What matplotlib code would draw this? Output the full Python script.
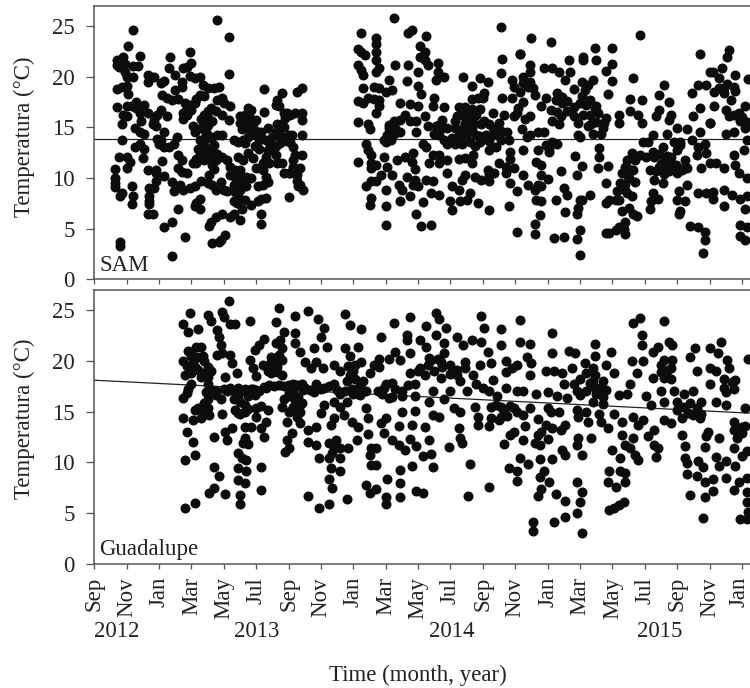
import matplotlib
matplotlib.use("Agg")
import matplotlib.pyplot as plt
from matplotlib.transforms import ScaledTranslation

plt.rcParams["font.family"] = ["Liberation Serif", "DejaVu Serif"]

# x = months since Sep 2012, y = temperature (deg C)
month_labels = ["Sep", "Nov", "Jan", "Mar", "May", "Jul", "Sep", "Nov", "Jan", "Mar", "May",
                "Jul", "Sep", "Nov", "Jan", "Mar", "May", "Jul", "Sep", "Nov", "Jan"]
month_ticks = [0, 2, 4, 6, 8, 10, 12, 14, 16, 18, 20, 22, 24, 26, 28, 30, 32, 34, 36, 38, 40]
year_labels = ["2012", "2013", "2014", "2015"]
year_centres = [1.4, 10.05, 22.1, 34.9]

sam_trend = [(0, 13.9), (40.5, 13.9)]
gua_trend = [(0, 18.1), (40.5, 14.85)]

sam_a = [(1.3,10.9),(1.3,10.0),(1.3,9.5),(1.3,9.1),(1.6,8.2),(1.7,8.5),(1.6,3.7),(1.6,3.3),(1.4,17.0),(1.4,18.8),
         (1.7,19.0),(2.0,19.1),(2.1,18.3),(1.4,21.7),(1.4,21.2),(1.5,21.0),(1.7,21.5),(1.8,22.0),(1.9,21.3),(2.1,23.0),
         (2.4,24.6),(2.8,22.1),(2.4,21.1),(2.7,21.1),(1.9,20.5),(2.0,20.0),(2.4,20.0),(1.8,16.2),(2.0,16.1),(1.7,15.3),
         (1.7,13.8),(1.5,12.1),(2.0,12.1),(2.2,11.6),(2.0,11.0),(2.3,9.2),(2.4,8.2),(2.3,7.4),(2.0,17.1),(2.3,17.1),
         (2.6,17.5),(2.6,16.9),(2.8,16.4),(3.1,17.2),(3.3,16.4),(2.9,15.6),(2.5,14.9),(2.8,14.6),(3.1,14.4),(2.5,13.1),
         (2.8,13.4),(3.1,12.9),(3.0,12.0),(3.3,20.2),(3.5,20.0),(3.7,20.0),(3.3,19.5),(4.1,19.4),(4.3,19.6),(3.7,15.7),
         (3.6,15.3),(3.8,15.1),(3.3,10.8),(3.8,10.8),(3.8,10.5),(3.8,9.7),(3.4,9.0),(3.7,9.0),(3.4,8.2),(3.4,7.7),
         (3.4,7.4),(3.3,6.5),(3.6,6.5),(4.3,5.2),(3.9,16.2),(4.1,16.7),(4.5,16.1)]
sam_b = [(4.7,22.0),(5.9,22.5),(4.6,20.9),(5.0,20.2),(5.5,20.9),(5.7,21.0),(6.0,21.4),(5.4,19.5),(5.4,19.0),(5.0,18.7),
         (4.2,18.2),(4.5,17.9),(4.8,17.7),(5.2,17.8),(5.6,17.4),(5.9,17.2),(6.2,17.4),(5.7,16.9),(6.0,16.7),(5.5,16.4),
         (5.7,16.2),(5.5,15.8),(4.3,14.6),(4.1,13.8),(3.9,13.9),(4.0,13.4),(4.3,13.1),(4.6,13.1),(4.9,13.4),(5.1,14.1),
         (5.2,12.3),(5.4,11.8),(4.2,11.7),(4.3,10.2),(5.2,11.0),(5.4,10.6),(5.7,10.5),(4.8,9.6),(4.9,8.7),(5.3,9.3),
         (5.5,8.8),(5.9,9.0),(6.2,9.2),(5.2,6.9),(4.8,5.7),(5.6,4.2),(4.8,2.3),(6.1,15.1),(6.2,14.6),(6.1,11.5),(6.3,11.5)]
sam_c = [(5.9,20.1),(6.2,19.9),(6.5,20.0),(6.7,19.2),(7.0,18.9),(7.4,18.9),(7.7,19.0),(6.5,18.2),(6.8,18.1),(6.3,17.8),
         (7.6,17.7),(7.9,17.9),(8.0,17.4),(8.4,17.1),(7.0,16.6),(7.2,16.9),(6.8,16.2),(7.5,16.6),(7.9,16.2),(6.7,15.6),
         (7.0,15.9),(8.3,15.7),(6.6,14.9),(6.9,14.9),(7.0,14.3),(7.6,14.3),(7.9,14.3),(6.5,13.8),(6.8,13.4),(7.0,12.9),
         (6.5,12.3),(6.7,12.5),(6.3,11.9),(7.3,12.8),(7.6,12.4),(7.5,11.8),(7.9,12.1),(8.2,11.8),(7.3,11.3),(7.1,10.3),
         (6.6,9.7),(7.0,9.5),(7.3,9.3),(7.8,9.6),(7.5,8.8),(8.0,8.8),(8.2,8.7),(6.5,7.9),(6.3,7.5),(6.2,7.2),
         (6.5,6.9),(7.5,6.2),(7.2,5.7),(7.1,5.3),(7.9,6.5),(7.3,3.6),(7.7,3.7),(7.8,3.9),(8.1,4.4),(7.6,25.6),
         (8.3,23.9),(8.3,20.3)]
sam_d = [(8.6,13.8),(8.9,13.6),(9.2,13.8),(9.5,14.1),(9.8,14.4),(9.0,16.1),(9.3,16.2),(9.5,16.9),(9.7,16.7),(9.2,15.6),
         (9.6,15.9),(9.8,15.3),(9.1,14.8),(9.5,14.9),(9.9,14.6),(8.9,12.1),(9.2,11.8),(9.5,12.5),(9.8,12.0),(8.4,11.1),
         (8.7,10.8),(9.0,10.8),(8.4,10.3),(8.7,10.1),(9.0,10.3),(9.4,10.1),(9.7,10.0),(8.6,9.3),(8.9,9.5),(9.0,8.8),
         (9.4,9.2),(8.6,7.7),(8.9,8.2),(9.3,7.8),(8.8,7.5),(9.1,6.9),(8.6,6.5),(8.4,6.2),(9.0,5.9),(9.7,7.3),(10.1,7.7)]
sam_e = [(10.5,18.8),(10.5,16.5),(10.0,15.7),(10.7,14.9),(11.3,17.7),(11.6,18.4),(11.2,17.2),(11.4,17.1),(11.7,16.4),(11.8,15.9),
         (11.3,15.3),(11.6,15.3),(10.2,13.8),(10.6,13.8),(11.0,14.1),(11.4,14.4),(11.7,14.1),(12.0,14.3),(10.2,12.9),(10.7,12.8),
         (11.0,12.8),(10.6,12.1),(11.2,12.3),(10.4,11.5),(10.8,11.5),(11.3,11.5),(11.6,11.5),(10.4,10.8),(10.0,11.0),(11.7,10.5),
         (12.0,10.5),(10.1,9.2),(10.4,9.3),(10.7,9.6),(10.6,10.1),(10.6,8.0),(10.3,7.9),(10.3,6.5),(10.3,5.5),(12.0,8.1)]
sam_f = [(12.5,18.5),(12.8,18.9),(12.4,16.4),(12.1,16.2),(11.9,16.4),(12.8,16.4),(12.8,15.7),(12.2,14.3),(12.8,14.3),(12.1,13.6),
         (12.3,13.1),(12.4,12.3),(12.8,12.3),(12.3,11.8),(12.3,11.1),(12.7,11.0),(12.1,10.5),(12.5,10.3),(12.5,9.7),(12.7,9.3),
         (12.9,8.8),(12.6,9.2)]
sam_g = [(16.5,24.3),(16.3,22.8),(16.5,22.5),(16.7,22.2),(16.3,21.2),(16.5,20.7),(16.6,20.2),(16.6,18.9),(16.3,17.6),(16.6,17.4),
         (16.9,17.9),(16.3,15.5),(16.9,15.3),(17.0,14.8),(16.8,13.4),(16.9,12.8),(17.1,12.3),(16.3,11.6),(17.1,11.5),(17.1,11.0),
         (16.8,9.2),(17.1,9.7),(17.1,8.0),(17.0,7.3),(17.4,23.8),(17.4,23.2),(17.4,22.5),(17.4,21.7),(17.6,20.9),(17.4,20.5),
         (17.3,19.0),(17.6,18.9),(18.2,19.7),(18.4,18.7),(18.0,18.5),(17.6,17.7),(17.6,17.1),(17.4,16.4),(18.5,25.8),(18.6,21.2),
         (19.4,21.2),(19.4,24.3),(19.6,24.6),(20.0,20.5),(19.3,19.6),(20.0,19.1),(20.2,18.3),(18.9,17.4),(19.5,17.3),(20.0,17.1),
         (19.2,16.2),(18.5,15.6),(18.2,14.9),(18.9,15.7),(19.5,15.6),(19.9,15.6),(18.1,14.3),(18.5,14.4),(18.9,14.6),(18.3,13.8),
         (17.9,13.8),(19.9,14.6),(17.9,12.1),(18.7,11.8),(19.2,12.1),(19.7,12.5),(19.6,11.6),(17.4,11.3),(18.1,11.1),(19.8,10.9),
         (17.7,10.3),(18.4,10.3),(19.3,10.1),(19.8,9.8),(17.4,9.7),(18.8,9.3),(19.0,8.8),(19.7,9.3),(18.0,8.8),(19.5,8.2),
         (18.9,7.7),(18.0,7.2),(19.9,6.5),(18.0,5.4)]
sam_h = [(20.5,24.0),(20.1,23.0),(20.4,22.5),(20.1,22.0),(20.4,21.7),(20.6,21.2),(21.2,21.4),(21.2,20.5),(21.1,19.7),(21.6,20.0),
         (21.0,17.9),(20.9,17.1),(21.6,17.0),(20.4,16.1),(20.6,15.1),(21.1,15.1),(21.5,15.7),(21.5,14.9),(21.8,14.9),(21.3,14.3),
         (21.6,13.8),(22.1,14.0),(20.3,13.4),(20.5,13.1),(20.9,12.3),(20.7,11.5),(21.3,12.3),(21.3,11.5),(21.8,11.8),(21.8,10.5),
         (20.5,9.8),(20.9,9.7),(20.0,9.2),(20.8,8.5),(21.3,8.3),(20.3,7.6),(20.2,5.3),(20.8,5.4),(22.0,7.7),(22.1,6.8)]
sam_i = [(22.8,20.0),(23.3,19.1),(23.8,19.9),(23.3,17.8),(23.7,17.9),(24.0,17.9),(22.5,17.0),(22.9,17.0),(23.3,16.8),(23.8,16.8),
         (22.4,16.1),(23.1,16.1),(23.6,16.2),(22.3,14.9),(22.8,14.9),(23.4,15.3),(23.9,15.3),(22.5,14.3),(23.0,14.4),(23.6,14.3),
         (22.3,13.4),(22.7,13.4),(23.2,13.6),(23.8,13.6),(22.5,11.9),(22.9,12.0),(23.4,12.3),(23.3,11.5),(22.9,10.3),(22.7,9.8),
         (23.5,10.1),(23.9,9.8),(22.1,9.2),(22.5,8.8),(23.2,8.5),(22.6,7.7),(23.0,7.8),(23.7,7.5)]
sam_j = [(25.1,24.9),(25.2,21.8),(26.3,22.3),(25.1,20.4),(24.3,19.5),(24.1,18.4),(25.2,17.9),(25.8,17.9),(25.8,19.7),(25.9,19.0),
         (24.6,16.4),(25.3,16.2),(24.4,15.3),(25.0,15.4),(25.9,16.1),(24.2,14.3),(24.7,14.4),(25.5,14.6),(25.1,13.8),(25.6,13.8),
         (24.4,12.8),(24.8,13.1),(25.7,12.6),(25.7,11.9),(25.0,11.5),(25.4,11.1),(24.3,10.8),(24.4,10.3),(24.7,10.5),(25.4,10.5),
         (25.9,11.0),(24.4,9.7),(25.7,9.5),(26.1,8.7),(24.4,6.8),(25.6,7.2)]
sam_k = [(27.0,23.8),(26.3,22.3),(26.9,21.2),(26.9,20.5),(26.5,19.4),(26.9,19.5),(26.3,18.5),(27.2,18.2),(27.9,17.9),(26.2,16.9),
         (26.5,17.5),(27.6,17.1),(26.1,16.4),(26.9,16.1),(26.6,15.8),(26.4,14.8),(26.9,14.3),(27.4,14.6),(26.7,14.1),(27.8,14.6),
         (26.5,12.8),(27.4,12.8),(27.9,13.3),(28.1,12.6),(27.3,11.6),(27.6,11.3),(26.5,10.3),(27.6,10.3),(28.0,9.9),(26.8,9.3),
         (27.4,9.3),(27.6,9.2),(27.2,8.8),(27.3,7.8),(27.6,7.7),(27.5,6.4),(27.2,5.5),(26.1,4.7),(27.2,4.5)]
sam_l = [(28.2,23.4),(29.3,21.7),(30.2,22.0),(27.8,20.9),(28.3,20.9),(28.7,20.5),(29.4,20.5),(29.1,19.7),(29.6,18.8),(28.6,18.4),
         (28.5,17.7),(28.9,17.4),(28.2,16.7),(28.6,16.5),(29.6,17.0),(30.0,17.4),(28.3,15.6),(28.7,15.3),(29.6,16.1),(29.9,15.4),
         (28.3,13.6),(28.1,12.9),(28.6,13.4),(29.9,14.3),(29.7,12.2),(30.1,11.2),(28.8,10.7),(29.8,10.3),(29.0,9.0),(29.2,8.3),
         (28.5,7.8),(29.1,6.6),(30.1,7.8),(29.9,7.0),(29.8,6.5),(28.4,4.1),(29.0,4.2),(29.8,4.0),(30.0,4.9),(30.0,2.4)]
sam_m = [(30.2,21.7),(30.9,22.9),(32.0,22.9),(31.0,21.7),(31.6,20.6),(30.8,19.7),(30.5,19.2),(30.3,18.7),(31.7,18.3),(30.6,17.7),
         (31.0,17.1),(30.2,16.2),(30.6,16.2),(31.1,16.4),(31.6,15.9),(30.7,15.3),(31.4,14.9),(30.8,14.4),(30.0,14.1),(31.3,14.4),
         (31.2,13.0),(31.2,12.1),(31.1,11.0),(31.7,11.2),(30.6,8.3),(30.0,7.8),(31.6,9.5),(31.8,7.8),(31.6,7.5),(31.8,4.6)]
sam_n = [(32.0,21.3),(32.0,19.6),(33.3,19.9),(33.7,24.1),(33.1,17.8),(33.8,17.7),(32.4,16.2),(32.4,15.4),(33.1,16.6),(33.6,16.2),
         (33.8,15.4),(33.9,13.6),(32.9,11.8),(32.8,11.1),(33.2,12.5),(33.7,12.3),(32.6,10.5),(32.9,10.3),(33.4,11.8),(32.5,9.5),
         (32.8,8.8),(33.2,8.2),(32.3,8.7),(32.2,7.8),(33.3,6.5),(33.5,6.3),(32.6,6.7),(33.0,7.0),(32.8,5.7),(32.4,5.2),
         (32.2,4.9),(32.8,4.5),(31.6,4.6)]
sam_o = [(35.2,19.2),(34.9,18.2),(35.5,17.5),(34.9,16.7),(34.7,16.1),(35.6,16.2),(35.5,15.7),(36.0,14.9),(34.5,14.3),(35.4,14.4),
         (34.2,13.6),(35.1,13.1),(35.8,13.6),(34.1,12.1),(34.6,12.1),(35.2,11.8),(35.6,12.1),(34.3,10.8),(34.9,11.1),(35.4,11.1),
         (35.9,11.3),(34.6,9.8),(35.1,9.5),(36.0,10.5),(34.5,8.5),(34.8,7.9),(34.4,7.7),(34.3,6.9),(36.1,8.7),(36.0,7.8)]
sam_p = [(37.4,22.3),(38.0,20.5),(36.9,18.4),(37.3,19.2),(37.8,19.2),(37.0,16.1),(37.4,16.9),(38.0,15.4),(36.6,14.8),(37.4,14.6),
         (36.2,13.6),(36.9,13.8),(37.3,13.1),(37.7,13.4),(37.2,12.3),(37.8,12.5),(36.5,11.8),(37.5,11.0),(38.0,11.5),(36.3,10.8),
         (36.6,11.0),(36.6,9.3),(36.1,6.5),(36.5,7.7),(36.2,6.7),(37.3,8.5),(37.8,8.5),(36.8,5.3),(37.3,5.2),(37.7,4.7),
         (37.7,3.9),(37.6,2.6)]
sam_q = [(39.2,22.7),(39.1,22.0),(38.8,20.9),(38.2,20.5),(38.6,19.9),(39.6,20.2),(40.4,19.8),(38.3,18.5),(38.9,18.9),(39.6,18.6),
         (38.3,17.1),(39.3,17.7),(39.0,16.7),(40.2,17.1),(39.2,16.1),(39.9,15.6),(38.0,15.4),(39.0,14.4),(39.5,14.6),(40.2,14.9),
         (40.3,13.8),(40.1,12.8),(39.5,12.3),(38.4,11.5),(38.9,11.0),(39.6,11.3),(39.8,10.5),(40.3,10.0),(38.2,8.6),(38.9,8.8),
         (38.2,7.9),(39.4,8.3),(39.9,7.9),(40.3,8.2),(38.9,7.2),(40.2,6.9),(39.9,5.4),(40.3,5.2),(39.9,4.3),(40.2,3.9)]
# dots inside the solid black clumps
sam_clumps = [(6.6,15.8),(7.0,15.2),(7.3,15.6),(6.9,14.4),(7.2,14.0),(7.4,13.3),(6.4,12.9),(6.8,11.8),(7.1,12.2),(7.4,10.9),
              (8.8,9.9),(8.7,8.6),(9.0,9.9),(9.0,15.4),(9.4,15.2),(9.7,15.0),(10.0,14.7),(9.3,13.5),(9.9,13.2),(10.3,14.6),
              (10.8,13.6),(11.2,13.2),(11.5,13.5),(11.9,13.7),(11.7,15.0),(11.2,14.6),(17.3,17.8),(18.2,15.2),(18.6,14.9),(18.0,13.6),
              (21.3,15.2),(21.0,14.4),(22.3,15.6),(21.8,13.4),(22.4,13.8),(22.8,16.2),(22.9,15.4),(23.4,15.9),(24.1,15.6),(24.6,14.9),
              (23.3,14.9),(23.8,14.2),(24.4,13.7),(25.1,14.7),(22.8,13.8),(23.5,13.2),(26.5,20.0),(26.8,19.0),(27.1,18.9),(28.9,18.0),
              (29.2,17.6),(29.2,16.6),(28.8,16.1),(30.1,19.5),(30.1,18.1),(30.4,17.2),(30.9,16.9),(31.0,15.5),(30.5,15.1),(31.5,15.4),
              (33.0,10.9),(33.0,10.0),(32.8,9.4),(33.3,10.8),(33.4,9.6),(34.5,12.6),(34.9,12.4),(35.0,11.4),(35.2,10.4),(35.5,10.7),
              (35.7,11.4),(34.7,10.7),(35.4,12.2),(36.0,12.8),(36.2,13.3),(36.4,11.0),(38.6,18.9),(39.1,19.3),(39.5,19.0),(38.9,18.4),
              (39.8,16.4),(40.0,16.0),(39.5,16.2),(40.3,15.5),(32.9,8.5),(32.4,7.8),(32.7,5.0)]

gua_a = [(5.9,24.7),(5.5,23.6),(5.8,22.9),(6.4,23.2),(5.5,20.0),(5.8,21.0),(6.3,21.4),(6.6,21.4),(6.0,20.5),(5.7,19.5),
         (6.1,19.8),(6.7,20.5),(5.6,18.6),(6.0,18.8),(6.4,19.1),(6.8,18.8),(7.2,19.0),(6.0,17.7),(5.8,17.2),(5.7,16.8),
         (5.5,16.3),(6.2,15.2),(6.4,15.4),(5.5,14.4),(6.1,14.2),(6.6,14.4),(5.7,13.0),(6.1,12.0),(6.2,10.7),(5.6,10.2),
         (5.6,5.5),(6.2,6.0)]
gua_b = [(7.0,24.5),(7.2,23.9),(7.6,23.1),(7.7,22.4),(7.8,21.6),(7.6,20.6),(7.9,20.8),(7.0,17.7),(7.0,17.0),(7.0,16.2),
         (7.0,15.4),(7.1,14.7),(7.8,16.2),(7.5,17.0),(7.9,14.8),(7.4,12.5),(7.4,9.5),(7.7,8.7),(7.4,7.5),(7.1,7.0),
         (7.9,24.8),(8.0,24.3)]
gua_c = [(8.3,25.9),(8.4,23.6),(8.7,23.6),(9.6,23.9),(8.4,20.6),(8.5,19.8),(8.8,18.8),(8.1,18.4),(8.2,17.0),(8.6,17.0),
         (9.0,17.0),(9.5,17.0),(8.6,16.2),(9.0,16.0),(9.3,15.7),(8.7,15.2),(9.0,14.8),(9.5,15.3),(8.1,13.0),(8.5,13.4),
         (8.2,12.2),(9.3,13.5),(9.7,13.5),(9.3,12.4),(9.2,11.9),(9.5,11.8),(8.9,10.9),(9.1,10.4),(9.4,10.2),(8.9,9.4),
         (9.4,9.1),(8.9,8.3),(9.3,8.0),(8.1,6.9),(9.0,6.8),(9.0,5.9)]
gua_d = [(11.2,23.8),(11.4,25.2),(12.4,24.4),(11.7,22.9),(10.5,22.2),(10.2,21.6),(9.9,21.1),(9.6,20.1),(9.8,19.3),(10.0,18.5),
         (11.5,22.1),(11.2,21.8),(11.6,21.3),(11.4,20.6),(10.9,19.9),(10.4,19.6),(11.2,19.9),(11.6,20.1),(10.9,18.8),(11.6,18.6),
         (10.6,17.3),(10.2,17.0),(9.8,17.2),(10.8,17.6),(11.7,17.5),(10.0,15.4),(10.3,15.6),(10.7,15.2),(10.0,14.5),(10.6,14.0),
         (10.3,13.4),(10.5,12.5),(10.3,9.5),(10.3,7.3),(11.7,16.2),(11.6,15.5)]
gua_e = [(13.2,24.9),(12.4,22.8),(12.4,21.8),(12.7,20.9),(13.0,19.9),(13.4,19.3),(13.8,24.1),(14.2,23.3),(14.0,22.4),(12.3,17.7),
         (12.8,17.7),(13.6,21.3),(13.7,19.9),(13.7,17.7),(12.1,16.5),(12.4,16.1),(12.7,15.7),(12.2,15.2),(12.5,14.5),(11.9,14.0),
         (12.7,13.9),(13.2,13.2),(13.7,13.5),(12.2,12.9),(11.9,12.2),(12.0,11.4),(11.8,11.0),(13.2,12.0),(13.7,11.7),(13.9,10.4),
         (13.2,6.7),(13.9,5.5)]
gua_f = [(15.5,24.6),(15.8,23.5),(14.4,21.4),(14.1,19.3),(14.8,19.6),(14.8,17.7),(14.2,17.3),(15.5,21.3),(15.8,20.5),(16.1,19.6),
         (15.8,18.6),(15.2,16.7),(15.6,16.0),(14.2,15.7),(14.8,16.0),(15.2,15.5),(14.0,14.9),(14.8,14.4),(15.4,14.7),(15.9,14.0),
         (14.6,13.7),(14.9,12.2),(14.8,11.4),(15.2,11.4),(15.7,11.4),(15.2,10.4),(14.5,10.4),(14.6,9.4),(15.2,9.1),(14.5,8.4),
         (14.7,7.5),(14.5,5.9),(15.6,6.4)]
gua_g = [(16.5,23.2),(16.3,21.4),(16.5,19.9),(16.6,18.0),(17.0,18.8),(17.3,19.6),(16.3,16.7),(16.8,15.4),(16.9,14.4),(16.3,13.5),
         (16.9,12.8),(16.2,12.2),(17.1,11.4),(17.0,10.7),(17.1,9.7),(16.8,7.8),(17.0,7.0),(17.7,22.4),(19.3,22.6),(19.3,22.1),
         (18.5,23.7),(19.5,24.3),(20.5,23.4),(18.6,20.9),(19.5,20.8),(17.6,20.2),(18.2,20.2),(18.9,20.1),(17.6,19.4),(19.5,18.8),
         (20.0,19.0),(18.0,17.7),(18.4,17.8),(19.8,17.7),(17.8,16.7),(18.4,16.4),(19.0,16.5),(19.8,16.5),(19.0,15.0),(19.8,15.1),
         (18.0,14.4),(17.7,13.9),(18.8,13.6),(19.6,13.7),(17.9,12.9),(18.4,12.2),(18.8,11.7),(19.2,11.2),(19.5,12.3),(19.9,11.6),
         (17.4,11.4),(17.4,9.7),(18.9,9.2),(19.6,9.6),(18.1,8.4),(18.9,8.0),(18.0,6.6),(18.0,5.9),(18.9,6.6),(19.9,7.2),(17.4,7.4)]
gua_h = [(21.1,24.7),(21.3,24.1),(21.7,23.3),(21.1,22.6),(20.1,22.1),(20.5,21.4),(22.4,22.4),(21.6,21.8),(20.7,20.3),(21.6,20.8),
         (20.1,19.3),(20.4,18.6),(22.0,19.6),(21.4,18.3),(22.4,18.6),(20.9,17.0),(20.7,16.0),(22.0,17.0),(21.6,16.2),(22.2,15.4),
         (20.9,14.7),(21.3,14.5),(20.4,13.5),(20.7,12.2),(20.3,10.6),(20.8,10.8),(21.9,11.5),(20.9,9.5),(20.3,7.0)]
gua_i = [(23.9,24.4),(24.1,23.3),(23.3,22.1),(22.8,21.6),(23.9,21.9),(24.3,20.9),(22.9,19.9),(23.8,19.6),(22.9,19.3),(23.4,18.6),
         (22.6,18.0),(23.6,17.7),(23.0,17.0),(24.0,17.3),(22.6,15.0),(23.5,15.5),(22.5,13.4),(22.6,12.4),(22.7,11.9),(23.7,14.5),
         (23.7,13.7),(23.2,9.8),(23.1,6.7)]
gua_j = [(25.1,23.2),(25.1,21.6),(26.3,24.0),(26.3,21.9),(24.5,19.8),(25.4,20.0),(26.1,19.6),(24.6,18.1),(25.4,18.9),(25.8,19.3),
         (25.4,17.3),(26.1,17.0),(24.4,17.0),(24.9,16.5),(24.5,15.5),(25.1,15.5),(25.9,15.4),(24.5,14.4),(24.4,13.6),(25.1,14.5),
         (25.9,13.0),(25.3,11.8),(25.7,12.7),(24.4,7.6),(25.6,9.4),(26.1,9.1),(26.1,8.2)]
gua_k = [(26.9,21.7),(26.7,20.4),(27.0,19.8),(26.9,18.6),(27.9,19.0),(26.5,17.0),(27.3,16.7),(28.0,16.9),(26.9,15.4),(26.5,14.7),
         (28.0,15.4),(27.4,14.3),(26.6,13.6),(27.9,13.7),(26.5,12.2),(27.4,12.7),(27.5,11.7),(28.0,12.3),(26.3,10.4),(26.8,9.8),
         (27.5,10.3),(28.3,10.3),(27.5,8.6),(27.8,9.1),(28.1,8.1),(27.6,7.4),(27.4,6.7),(27.1,4.1),(27.1,3.2)]
gua_l = [(28.3,22.8),(28.3,20.8),(29.3,21.0),(29.7,20.8),(29.5,19.3),(28.9,18.8),(28.4,19.0),(29.0,17.7),(29.6,17.7),(28.6,16.5),
         (29.2,16.3),(29.8,17.0),(28.7,15.0),(28.2,15.0),(29.8,15.2),(28.3,13.4),(29.1,13.7),(28.8,13.2),(29.9,12.4),(29.8,11.7),
         (28.9,11.2),(29.1,10.7),(30.1,10.7),(28.5,6.9),(29.1,6.2),(29.8,8.1),(30.1,7.1),(30.0,6.1),(29.8,5.0),(29.1,4.6),
         (28.4,4.1),(30.1,3.0)]
gua_m = [(30.9,21.7),(30.9,20.5),(31.9,20.9),(30.3,19.8),(30.8,19.3),(31.6,19.6),(32.1,18.8),(30.8,18.0),(31.4,18.0),(30.4,17.0),
         (31.0,16.7),(31.4,16.4),(30.4,15.0),(29.9,14.5),(30.5,14.0),(31.2,14.8),(31.3,14.0),(31.7,13.4),(32.1,14.8),(32.4,16.6),
         (30.7,12.4),(32.0,11.2),(32.5,10.4),(31.8,9.1),(31.7,8.1),(32.2,7.6),(32.5,9.1),(31.8,5.3),(32.1,5.5)]
gua_n = [(33.2,20.0),(33.9,20.0),(33.5,18.8),(33.1,17.7),(32.9,16.7),(34.1,16.5),(34.4,15.7),(33.3,14.5),(33.9,14.2),(33.6,13.7),
         (32.6,14.0),(32.6,12.7),(33.3,12.4),(32.8,11.7),(33.1,11.4),(33.4,10.7),(33.6,10.2),(32.8,8.9),(32.8,8.1),(32.7,6.1),(32.4,5.8)]
gua_o = [(33.7,24.2),(33.3,23.7),(35.2,23.9),(33.8,22.6),(33.8,21.6),(34.8,21.4),(35.5,21.9),(34.5,20.9),(35.7,21.6),(35.2,20.1),
         (35.7,20.1),(34.5,18.3),(35.2,18.3),(35.6,19.3),(35.0,17.0),(35.8,17.0),(35.2,16.0),(36.0,16.0),(34.6,13.2),(34.2,12.6),
         (34.6,11.7),(34.8,11.4),(34.7,10.5),(35.2,14.2),(35.6,13.9)]
gua_p = [(37.1,21.3),(38.0,21.3),(36.8,20.4),(37.2,19.0),(38.0,19.3),(36.4,16.7),(37.0,17.0),(37.5,16.0),(38.0,17.7),(36.3,14.4),
         (37.0,14.7),(37.4,14.4),(36.3,12.7),(36.5,11.6),(36.5,10.4),(36.6,9.9),(37.3,10.1),(37.6,9.5),(36.6,8.8),(37.2,8.7),
         (37.7,8.1),(37.9,13.0),(37.8,12.6),(37.7,11.5),(36.8,6.8),(37.7,6.6),(37.6,4.5)]
gua_q = [(38.7,21.9),(38.5,20.8),(39.1,20.1),(40.4,20.2),(38.4,19.0),(39.2,19.3),(39.6,18.1),(39.5,17.2),(38.9,17.3),(38.4,16.0),
         (39.0,15.7),(40.2,15.4),(39.5,14.0),(38.6,12.4),(39.5,13.2),(40.0,13.5),(39.7,12.4),(39.5,11.4),(38.4,10.5),(39.0,10.1),
         (38.6,9.6),(40.0,10.6),(40.3,11.1),(39.6,9.6),(38.2,8.4),(39.0,8.5),(39.8,8.1),(40.3,8.5),(38.2,7.2),(39.5,7.3),
         (40.3,7.1),(40.3,6.1),(40.4,5.1),(39.9,4.4),(40.3,4.4)]
gua_clumps = [(6.0,20.9),(6.4,20.4),(6.8,20.0),(6.2,19.4),(6.6,18.4),(7.0,19.4),(7.0,18.4),(6.9,16.9),(6.8,15.9),(6.7,15.0),
              (7.3,17.1),(8.9,16.5),(9.5,16.5),(9.3,15.0),(8.9,14.9),(9.9,16.6),(10.9,20.4),(11.0,19.3),(10.7,19.0),(11.3,18.9),
              (11.3,19.4),(12.0,16.8),(12.3,16.9),(12.6,16.4),(12.8,15.9),(12.3,15.5),(12.0,15.0),(12.7,15.0),(14.5,11.9),(14.7,10.9),
              (15.2,19.0),(15.7,19.5),(16.0,19.0),(16.1,18.2),(15.6,18.0),(16.4,17.6),(15.9,17.2),(16.4,16.6),(17.5,17.0),(18.6,17.2),
              (19.0,17.0),(18.2,16.3),(19.4,17.6),(17.9,17.3),(20.8,20.1),(21.2,20.2),(21.5,19.4),(21.0,19.0),(22.0,18.7),(22.4,19.1),
              (21.4,19.9),(20.6,19.6),(24.8,15.7),(25.3,15.0),(25.7,15.6),(26.1,15.0),(25.5,14.6),(25.0,14.2),(27.6,13.0),(27.2,11.9),
              (30.0,18.2),(30.4,18.8),(30.9,18.6),(30.6,17.8),(31.2,17.3),(31.6,17.1),(30.0,16.6),(30.8,16.0),(31.4,15.8),(30.9,17.3),
              (35.0,19.6),(35.4,19.0),(35.6,18.2),(35.0,18.9),(36.4,15.5),(36.8,15.9),(37.2,15.4),(36.7,14.9),(37.5,14.8),(36.0,15.2),
              (38.9,18.2),(39.4,17.9),(39.0,16.9),(40.2,13.6),(40.0,12.9),(16.8,17.0),(12.9,17.1)]
# the dense band of dots around 17 degrees
gua_band = [(7.5,16.6),(8.0,17.2),(8.4,17.3),(8.9,17.3),(9.3,17.2),(9.7,17.2),(10.0,17.1),(10.5,17.4),(11.1,17.5),(11.4,17.6),
            (12.0,17.6),(12.5,17.6),(13.0,17.3),(13.3,17.1),(13.6,16.9),(14.0,17.2),(14.5,17.5),(15.0,17.1),(15.5,17.0),(16.0,16.7)]

sam_groups = [sam_a, sam_b, sam_c, sam_d, sam_e, sam_f, sam_g, sam_h, sam_i,
              sam_j, sam_k, sam_l, sam_m, sam_n, sam_o, sam_p, sam_q, sam_clumps]
gua_groups = [gua_a, gua_b, gua_c, gua_d, gua_e, gua_f, gua_g, gua_h, gua_i,
              gua_j, gua_k, gua_l, gua_m, gua_n, gua_o, gua_p, gua_q, gua_clumps, gua_band]

GREY = "#555555"
INK = "#222222"
FS = 16.5
W, H = 750, 688


def draw_panel(ax, groups, trend, name, label_y):
    pts = [p for g in groups for p in g]
    ax.scatter([p[0] for p in pts], [p[1] for p in pts], s=52, color="#0c0c0c",
               linewidths=0, zorder=2)
    ax.plot([t[0] for t in trend], [t[1] for t in trend], color="#222222", lw=0.9, zorder=1)
    ax.set_xlim(0, 40.5)
    ax.set_ylim(0, 27)
    ax.set_yticks([0, 5, 10, 15, 20, 25])
    ax.set_xticks(month_ticks)
    ax.spines["right"].set_visible(False)
    for side in ["top", "left", "bottom"]:
        ax.spines[side].set_color(GREY)
        ax.spines[side].set_linewidth(1.1)
    ax.tick_params(axis="y", length=6, width=0.9, color=GREY, labelsize=FS, pad=8, labelcolor=INK)
    ax.tick_params(axis="x", length=3.5, width=0.9, color=GREY, labelsize=FS, pad=6, labelcolor=INK)
    ax.set_ylabel("Temperatura (°C)", fontsize=FS, color=INK)
    ax.yaxis.set_label_coords(-0.090, label_y)
    ax.text(0.008, 0.012, name, transform=ax.transAxes, fontsize=FS, color=INK,
            ha="left", va="bottom")


fig = plt.figure(figsize=(W / 100, H / 100), dpi=100)
left = 94.3 / W
ax1 = fig.add_axes([left, 1 - 279.3 / H, 1 - left, (279.3 - 6) / H])
ax2 = fig.add_axes([left, 1 - 563.7 / H, 1 - left, (563.7 - 290) / H])

draw_panel(ax1, sam_groups, sam_trend, "SAM", 0.52)
draw_panel(ax2, gua_groups, gua_trend, "Guadalupe", 0.53)

ax1.set_xticklabels([])
ax2.set_xticklabels(month_labels, rotation=90, ha="center", va="top")

# last label sits against the right edge of the figure
last = ax2.get_xticklabels()[-1]
last.set_ha("right")
last.set_transform(last.get_transform() + ScaledTranslation(7.5 / 100, 0, fig.dpi_scale_trans))

for year, centre in zip(year_labels, year_centres):
    ax2.annotate(year, xy=(centre, 0), xycoords=("data", "axes fraction"), xytext=(0, -48.5),
                 textcoords="offset points", ha="center", va="center", fontsize=FS, color=INK)

fig.text(418 / W, 1 - 675 / H, "Time (month, year)", ha="center", va="center",
         fontsize=FS, color=INK)

fig.savefig("out.png", dpi=100)
